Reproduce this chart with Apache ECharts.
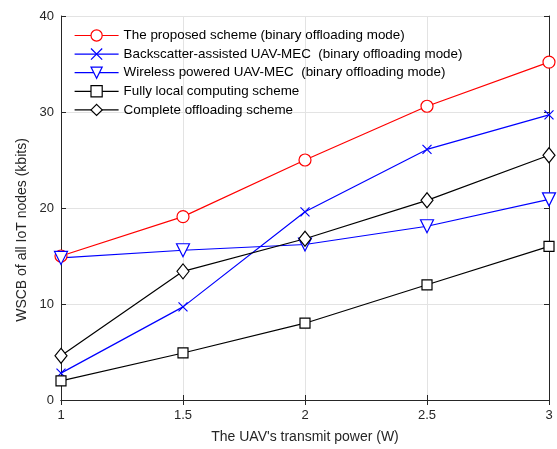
<!DOCTYPE html>
<html>
<head>
<meta charset="utf-8">
<script src="https://cdn.jsdelivr.net/npm/echarts@6/dist/echarts.min.js"></script>
<style>html,body{margin:0;padding:0;background:#fff;}#c{width:557px;height:449px;}</style>
</head>
<body>
<div id="c"></div>
<script>
const powers = [1, 1.5, 2, 2.5, 3];
const proposed = [15.0, 19.1, 25.0, 30.6, 35.2];
const backscatter = [2.8, 9.7, 19.6, 26.1, 29.7];
const wireless = [14.8, 15.6, 16.2, 18.1, 20.9];
const fullyLocal = [2.0, 4.9, 8.0, 12.0, 16.0];
const completeOff = [4.6, 13.4, 16.8, 20.8, 25.5];
const xTicks = [1, 1.5, 2, 2.5, 3];
const yTicks = [0, 10, 20, 30, 40];
const names = [
  'The proposed scheme (binary offloading mode)',
  'Backscatter-assisted UAV-MEC  (binary offloading mode)',
  'Wireless powered UAV-MEC  (binary offloading mode)',
  'Fully local computing scheme',
  'Complete offloading scheme'
];

const pair = arr => powers.map((p, i) => [p, arr[i]]);
const font = 'Liberation Sans, Arial, Helvetica, sans-serif';
const axisCol = '#262626';

function mkSeries(name, data, color, symbol, size, rotate) {
  return {
    name: name, type: 'line', data: pair(data),
    symbol: symbol, symbolSize: size, symbolRotate: rotate || 0,
    showAllSymbol: true,
    lineStyle: {color: color, width: 1.2},
    itemStyle: {color: '#ffffff', borderColor: color, borderWidth: 1.2},
    emphasis: {disabled: true},
    animation: false, z: 3
  };
}

const chart = echarts.init(document.getElementById('c'), null, {renderer: 'canvas'});
chart.setOption({
  animation: false,
  backgroundColor: '#fff',
  grid: {left: 61, right: 8, top: 16, bottom: 47, containLabel: false},
  legend: {
    orient: 'vertical', left: 74, top: 29, padding: 0,
    itemWidth: 44, itemHeight: 14, itemGap: 5.6,
    itemStyle: {borderWidth: 1.2},
    lineStyle: {width: 1.2},
    textStyle: {fontFamily: font, fontSize: 13.4, color: '#000'},
    data: names
  },
  xAxis: [{
    type: 'value', min: 1, max: 3, interval: 0.5,
    axisLine: {lineStyle: {color: axisCol, width: 1}},
    axisTick: {inside: true, length: 5, lineStyle: {color: axisCol}},
    axisLabel: {color: axisCol, fontSize: 13, fontFamily: font, margin: 9,
      formatter: v => xTicks.indexOf(v) >= 0 ? String(v) : ''},
    splitLine: {show: true, lineStyle: {color: '#e3e3e3', width: 1}},
    name: "The UAV's transmit power (W)", nameLocation: 'middle', nameGap: 30,
    nameTextStyle: {color: axisCol, fontSize: 14, fontFamily: font}
  }, {
    type: 'value', min: 1, max: 3, interval: 0.5, position: 'top',
    axisLine: {lineStyle: {color: axisCol, width: 1}},
    axisTick: {inside: true, length: 5, lineStyle: {color: axisCol}},
    axisLabel: {show: false}, splitLine: {show: false}
  }],
  yAxis: [{
    type: 'value', min: 0, max: 40, interval: 10,
    axisLine: {show: true, lineStyle: {color: axisCol, width: 1}},
    axisTick: {show: true, inside: true, length: 5, lineStyle: {color: axisCol}},
    axisLabel: {color: axisCol, fontSize: 13, fontFamily: font, margin: 7,
      formatter: v => yTicks.indexOf(v) >= 0 ? String(v) : ''},
    splitLine: {show: true, lineStyle: {color: '#e3e3e3', width: 1}}
  }, {
    type: 'value', min: 0, max: 40, interval: 10, position: 'right',
    axisLine: {show: true, lineStyle: {color: axisCol, width: 1}},
    axisTick: {show: true, inside: true, length: 5, lineStyle: {color: axisCol}},
    axisLabel: {show: false}, splitLine: {show: false}
  }],
  graphic: [{
    type: 'text', x: 22, y: 230, rotation: Math.PI / 2,
    style: {text: 'WSCB of all IoT nodes (kbits)', fill: axisCol, fontSize: 14, fontFamily: font,
      align: 'center', verticalAlign: 'middle'}
  }],
  series: [
    mkSeries(names[0], proposed, '#ff0000', 'circle', 12),
    mkSeries(names[1], backscatter, '#0000ff', 'path://M0,0L10,10M10,0L0,10', 9),
    mkSeries(names[2], wireless, '#0000ff', 'triangle', 13, 180),
    mkSeries(names[3], fullyLocal, '#000000', 'rect', 10),
    mkSeries(names[4], completeOff, '#000000', 'diamond', [12, 15])
  ]
});
</script>
</body>
</html>
